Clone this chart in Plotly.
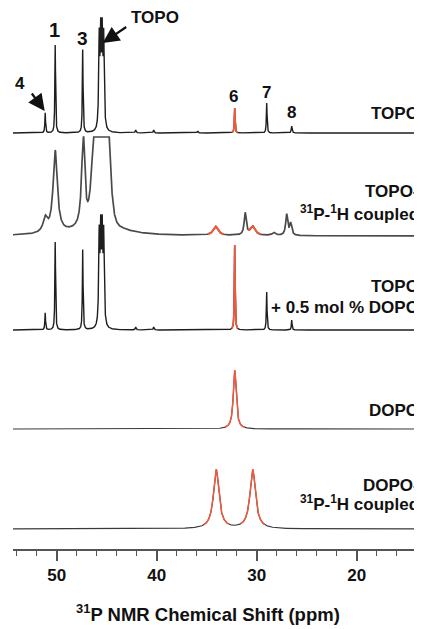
import numpy as np
import plotly.graph_objects as go

# ---- data (ppm, height, half-width) ----
ppm = np.linspace(54.4, 13.4, 8201)

topo_ppm = [51.15, 50.15, 47.4, 45.75, 45.6, 45.45, 45.3, 42.1, 40.3, 35.9, 32.2, 29.0, 26.5]
topo_h   = [20, 88, 83, 88, 88, 88, 88, 3, 3, 2, 25, 30, 7]
topo_w   = [0.04, 0.04, 0.04, 0.06, 0.06, 0.06, 0.06, 0.05, 0.05, 0.05, 0.04, 0.04, 0.05]

cpl_ppm = [51.15, 50.15, 47.35, 45.6, 34.1, 31.15, 30.4, 28.3, 27.0, 26.6]
cpl_h   = [14, 82, 94, 20, 9, 22, 9, 3, 21, 12]
cpl_w   = [0.25, 0.25, 0.18, 1.8, 0.3, 0.12, 0.3, 0.2, 0.12, 0.12]
cpl_core_ppm, cpl_core_h, cpl_core_sigma = [45.55], [300], [0.5]
cpl_clip = 99

mix_ppm = [51.15, 50.15, 47.4, 45.75, 45.6, 45.45, 45.3, 42.1, 40.3, 32.2, 29.0, 26.5]
mix_h   = [17, 88, 80, 88, 88, 88, 88, 3, 3, 85, 38, 10]
mix_w   = [0.04, 0.04, 0.04, 0.06, 0.06, 0.06, 0.06, 0.05, 0.05, 0.04, 0.04, 0.04]

dopo_ppm, dopo_h, dopo_w = [32.2], [59], [0.17]
dcpl_ppm, dcpl_h, dcpl_w = [34.05, 30.4], [59, 59], [0.33, 0.33]

# DOPO signal ranges (drawn red)
red_topo = [(31.9, 32.5)]
red_cpl = [(33.3, 34.9), (29.6, 30.85)]
red_mix = [(31.9, 32.5)]
red_dopo = [(31.2, 33.2)]
red_dcpl = [(32.8, 35.3), (29.2, 31.6)]

offsets = [416, 313, 219, 120, 20]
tick_vals = [50, 40, 30, 20]

def lor(c, h, w):
    y = np.zeros_like(ppm)
    for ci, hi, wi in zip(c, h, w):
        y += hi * wi**2 / (wi**2 + (ppm - ci)**2)
    return y

def gau(c, h, s):
    y = np.zeros_like(ppm)
    for ci, hi, si in zip(c, h, s):
        y += hi * np.exp(-0.5 * ((ppm - ci) / si)**2)
    return y

spectra = [
    (lor(topo_ppm, topo_h, topo_w), red_topo, '#1e1e1e', 1.4),
    (np.minimum(lor(cpl_ppm, cpl_h, cpl_w) + gau(cpl_core_ppm, cpl_core_h, cpl_core_sigma), cpl_clip), red_cpl, '#4a4a4a', 1.7),
    (lor(mix_ppm, mix_h, mix_w), red_mix, '#1e1e1e', 1.4),
    (lor(dopo_ppm, dopo_h, dopo_w), red_dopo, '#3a3a3a', 1.2),
    (lor(dcpl_ppm, dcpl_h, dcpl_w), red_dcpl, '#3a3a3a', 1.2),
]

RED = '#ef5a3e'
fig = go.Figure()
for (y, reds, col, lw), off in zip(spectra, offsets):
    fig.add_trace(go.Scatter(x=ppm, y=y + off, mode='lines',
                             line=dict(color=col, width=lw), hoverinfo='skip'))
    mask = np.zeros_like(ppm, dtype=bool)
    for a, b in reds:
        mask |= (ppm >= a) & (ppm <= b)
    yr = np.where(mask, y + off, np.nan)
    fig.add_trace(go.Scatter(x=ppm, y=yr, mode='lines',
                             line=dict(color=RED, width=lw + 0.3), hoverinfo='skip'))

F = 'Liberation Sans, Arial, sans-serif'
ann = []
def lab(x, y, t, size=17, color='#111'):
    ann.append(dict(x=x, y=y, text='<b>%s</b>' % t, showarrow=False, xref='x', yref='y',
                    font=dict(family=F, size=size, color=color)))

lab(50.2, 519, '1', 20)
lab(47.4, 511, '3', 19)
lab(40.2, 532, 'TOPO', 17)
lab(53.7, 466, '4', 17)
lab(32.3, 453, '6', 17)
lab(29.05, 457, '7', 17)
lab(26.5, 437, '8', 17)

# arrows
ann.append(dict(x=45.4, y=506, ax=25, ay=-17, text='', showarrow=True, xref='x', yref='y',
                arrowhead=2, arrowsize=1.5, arrowwidth=2.2, arrowcolor='#111'))
ann.append(dict(x=51.2, y=438, ax=-14, ay=-19, text='', showarrow=True, xref='x', yref='y',
                arrowhead=2, arrowsize=1.5, arrowwidth=2.2, arrowcolor='#111'))

def rlab(y, t):
    ann.append(dict(x=1, y=y, text='<b>%s</b>' % t, showarrow=False, xref='paper', yref='y',
                    xanchor='right', xshift=-1,
                    font=dict(family=F, size=17, color='#111')))

coupled = '<sup>31</sup>P-<sup>1</sup>H coupled'
rlab(436, 'TOPO')
rlab(358, 'TOPO-')
rlab(336, coupled)
rlab(263, 'TOPO')
rlab(242, '+ 0.5 mol % DOPO')
rlab(139, 'DOPO')
rlab(64, 'DOPO-')
rlab(46, coupled)

ann.append(dict(x=0.4768, y=-64 / 541, text='<b><sup>31</sup>P NMR Chemical Shift (ppm)</b>',
                showarrow=False, xref='paper', yref='paper', yanchor='middle',
                font=dict(family=F, size=18.5, color='#111')))

# the page body adds an 8px margin, so the figure is drawn 8px smaller
fig.update_layout(
    width=414, height=621,
    margin=dict(l=5, r=0, t=0, b=80),
    paper_bgcolor='white', plot_bgcolor='white',
    showlegend=False,
    annotations=ann,
    xaxis=dict(range=[54.37, 13.47], showgrid=False, zeroline=False,
               showline=True, linecolor='#555', linewidth=1.5,
               ticks='outside', ticklen=10, tickwidth=1.5, tickcolor='#555',
               tickvals=tick_vals, ticktext=['<b>%d</b>' % v for v in tick_vals],
               tickfont=dict(family=F, size=17, color='#111'),
               minor=dict(dtick=2, tick0=0, ticks='outside', ticklen=5, tickwidth=1.3, tickcolor='#555')),
    yaxis=dict(range=[0, 541], visible=False, fixedrange=True),
)

fig.write_html('out.html')
